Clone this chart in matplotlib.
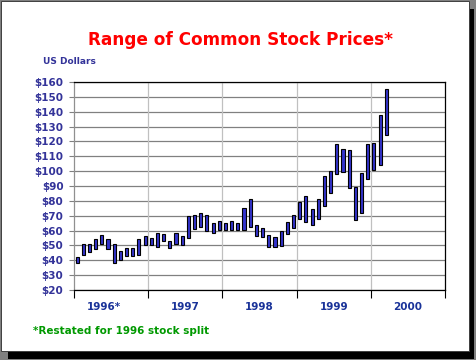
import matplotlib
matplotlib.use("Agg")
import matplotlib.pyplot as plt
from matplotlib.patches import Rectangle

# monthly price ranges, Jan 1996 .. Mar 2000
lows = [38, 43.5, 45.5, 47.5, 51, 47.5, 38.5, 40, 43, 43, 43.5, 50,
        50, 49, 53, 48.5, 51, 50.5, 55, 61, 62.5, 59.5, 58.5, 60.5,
        60.5, 60.5, 60.5, 60.5, 62.5, 56.5, 55.5, 49, 49, 49.5, 57.5, 61.5,
        68, 66, 63.5, 68, 76.5, 85.5, 98, 99.5, 88.5, 67, 71.5, 95,
        101, 104, 124]
highs = [42, 51, 51, 54.5, 57, 54, 51, 46, 48.5, 48, 54, 56.5,
         55, 58.5, 58, 53, 58.5, 56.5, 70, 70.5, 71.5, 70.5, 65, 66.5,
         65, 66.5, 65, 75.5, 81.5, 63.5, 61.5, 57, 55.5, 60, 66, 70.5,
         79, 83.5, 74.5, 81, 96.5, 100, 118, 115, 114, 89.5, 99, 118,
         119, 138, 155]
years = ["1996*", "1997", "1998", "1999", "2000"]
yticks = list(range(20, 170, 10))

W, H = 476, 360
fig = plt.figure(figsize=(W / 100, H / 100), dpi=100, facecolor="#808080")

# panel with drop shadow
fig.patches.append(Rectangle((8 / W, 1 / H), 466 / W, 350 / H, transform=fig.transFigure,
                             facecolor="black", edgecolor="none", zorder=-2))
fig.patches.append(Rectangle((1 / W, 9 / H), 468 / W, 350 / H, transform=fig.transFigure,
                             facecolor="white", edgecolor="#404040", linewidth=0.7, zorder=-1))

ax = fig.add_axes([74 / W, 1 - 290 / H, 371 / W, 208 / H])
ax.set_zorder(5)
ax.set_facecolor("white")

x = [i + 0.5 for i in range(len(lows))]
heights = [h - l for l, h in zip(lows, highs)]
ax.bar(x, heights, bottom=lows, width=0.5, color="#3333cc", edgecolor="black",
       linewidth=0.8, zorder=3)

ax.set_xlim(0, 60)
ax.set_ylim(20, 160)

for v in yticks:
    ax.axhline(v, color="#808080", linewidth=0.9, zorder=1)
for m in range(12, 60, 12):
    ax.axvline(m, color="#c0c0c0", linewidth=0.9, zorder=1)

ax.set_yticks(yticks)
ax.set_yticklabels(["$%d" % v for v in yticks], fontsize=7.5, fontweight="bold",
                   color="#333399")
ax.tick_params(axis="y", length=3.6, width=0.8, color="#808080", pad=4)
ax.set_xticks(range(0, 61, 12))
ax.set_xticklabels([])
ax.tick_params(axis="x", length=6, width=0.8, color="black", direction="out")

for s in ["top", "right", "bottom"]:
    ax.spines[s].set_color("black")
    ax.spines[s].set_linewidth(0.9)
ax.spines["left"].set_color("#909090")
ax.spines["left"].set_linewidth(0.9)

centers = [6, 18, 30, 42, 54]
for i, (c, lab) in enumerate(zip(centers, years)):
    xx = c - 1.2 if i == 0 else c
    ax.text(xx, -0.08, lab, transform=ax.get_xaxis_transform(), ha="center", va="center",
            fontsize=7.5, fontweight="bold", color="#1a3399")

fig.text(240 / W, 1 - 40 / H, "Range of Common Stock Prices*", ha="center", va="center",
         fontsize=12.2, fontweight="bold", color="#ff0000")
fig.text(43 / W, 1 - 62 / H, "US Dollars", ha="left", va="center",
         fontsize=6.5, fontweight="bold", color="#333399")
fig.text(33 / W, 1 - 331 / H, "*Restated for 1996 stock split", ha="left", va="center",
         fontsize=7.5, fontweight="bold", color="#009900")

fig.savefig("out.png", dpi=100, facecolor=fig.get_facecolor())
